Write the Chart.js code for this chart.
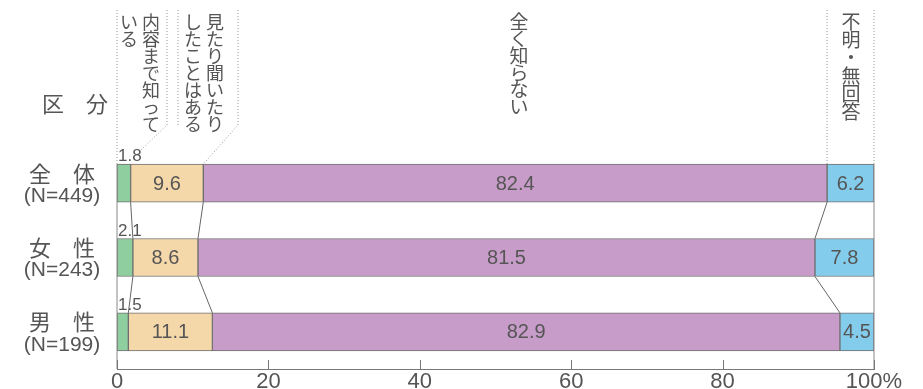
<!DOCTYPE html>
<html>
<head>
<meta charset="utf-8">
<script src="https://cdn.jsdelivr.net/npm/chart.js@4/dist/chart.umd.min.js"></script>
<style>
  body { margin: 0; background: #fff; }
  #wrap { width: 923px; height: 389px; position: relative; }
</style>
</head>
<body>
<div id="wrap"><canvas id="chart"></canvas></div>
<script>
// rows and sample sizes
const categories = ["全　体", "女　性", "男　性"];
const sampleSizes = ["(N=449)", "(N=243)", "(N=199)"];

// series (percent)
const seriesNames = ["内容まで知っている", "見たり聞いたりしたことはある", "全く知らない", "不明・無回答"];
const knowContent = [1.8, 2.1, 1.5];
const heardOf = [9.6, 8.6, 11.1];
const dontKnow = [82.4, 81.5, 82.9];
const noAnswer = [6.2, 7.8, 4.5];

const xTicks = [0, 20, 40, 60, 80, 100];

const colors = ["#8fcf9f", "#f5d8aa", "#c89cc8", "#84ccec"];
const textColor = "#555";
const jpFont = "'Noto Sans CJK JP', sans-serif";
const numFont = "'Liberation Sans', Arial, sans-serif";

// vertical text helper
function vText(ctx, str, x, y, pitch) {
  ctx.textAlign = "center";
  ctx.textBaseline = "top";
  [...str].forEach((ch, i) => ctx.fillText(ch, x, y + i * pitch));
}

function dotted(ctx, pts) {
  ctx.save();
  ctx.strokeStyle = "#999";
  ctx.lineWidth = 1;
  ctx.setLineDash([1, 2]);
  ctx.beginPath();
  ctx.moveTo(pts[0][0], pts[0][1]);
  pts.slice(1).forEach((p) => ctx.lineTo(p[0], p[1]));
  ctx.stroke();
  ctx.restore();
}

const decorations = {
  id: "decorations",
  afterDatasetsDraw(chart) {
    const { ctx, chartArea, scales } = chart;
    const xs = scales.x;
    const metas = chart.data.datasets.map((d, i) => chart.getDatasetMeta(i));
    const first = metas[0].data[0];
    const half = first.height / 2;
    const topBar = first.y - half;
    const x0 = xs.getPixelForValue(0);
    const x100 = xs.getPixelForValue(100);

    ctx.save();
    // frame verticals
    ctx.strokeStyle = "#888";
    ctx.lineWidth = 1;
    ctx.beginPath();
    ctx.moveTo(x0, topBar); ctx.lineTo(x0, chartArea.bottom);
    ctx.moveTo(x100, topBar); ctx.lineTo(x100, chartArea.bottom);
    ctx.stroke();

    // inward ticks
    ctx.strokeStyle = "#777";
    ctx.beginPath();
    xTicks.forEach((v) => {
      const px = Math.round(xs.getPixelForValue(v)) + 0.5;
      ctx.moveTo(px, chartArea.bottom);
      ctx.lineTo(px, chartArea.bottom - 9);
    });
    ctx.stroke();

    // connector lines between rows
    ctx.strokeStyle = "#666";
    ctx.beginPath();
    for (let d = 0; d < 3; d++) {
      const els = metas[d].data;
      for (let r = 0; r < els.length - 1; r++) {
        ctx.moveTo(els[r].x, els[r].y + half);
        ctx.lineTo(els[r + 1].x, els[r + 1].y - half);
      }
    }
    ctx.stroke();

    // value labels
    ctx.fillStyle = textColor;
    chart.data.datasets.forEach((ds, d) => {
      metas[d].data.forEach((el, r) => {
        const v = ds.data[r];
        if (d === 0) {
          ctx.font = "17px " + numFont;
          ctx.textAlign = "left";
          ctx.textBaseline = "bottom";
          ctx.fillText(v.toFixed(1), el.base + 1, el.y - half + 1);
        } else {
          ctx.font = "20px " + numFont;
          ctx.textAlign = "center";
          ctx.textBaseline = "middle";
          ctx.fillText(v.toFixed(1), (el.x + el.base) / 2, el.y + 1);
        }
      });
    });

    // row labels
    metas[0].data.forEach((el, r) => {
      ctx.textAlign = "center";
      ctx.textBaseline = "middle";
      ctx.font = "22px " + jpFont;
      ctx.fillText(categories[r], 62, el.y - 10);
      ctx.font = "21px " + numFont;
      ctx.fillText(sampleSizes[r], 62, el.y + 13);
    });
    ctx.font = "22px " + jpFont;
    ctx.fillText("区　分", 75, 104);

    // header labels
    ctx.font = "18px " + jpFont;
    vText(ctx, "内容まで知って", 151, 13, 17);
    vText(ctx, "いる", 129, 13, 17);
    vText(ctx, "見たり聞いたり", 215, 13, 17);
    vText(ctx, "したことはある", 193, 13, 17);
    ctx.font = "19px " + jpFont;
    vText(ctx, "全く知らない", 519, 12, 17);
    vText(ctx, "不明・無回答", 851, 12, 18);

    // header boxes
    dotted(ctx, [[x0, 10], [x0, topBar]]);
    dotted(ctx, [[167, 10], [167, 125], [141, 150]]);
    dotted(ctx, [[178, 10], [178, 126]]);
    dotted(ctx, [[238, 10], [238, 125], [xs.getPixelForValue(knowContent[0] + heardOf[0]), topBar]]);
    dotted(ctx, [[xs.getPixelForValue(100 - noAnswer[0]), 10], [xs.getPixelForValue(100 - noAnswer[0]), topBar]]);
    dotted(ctx, [[x100, 10], [x100, topBar]]);
    ctx.restore();
  },
};

new Chart(document.getElementById("chart"), {
  type: "bar",
  data: {
    labels: categories,
    datasets: [knowContent, heardOf, dontKnow, noAnswer].map((data, i) => ({
      label: seriesNames[i],
      data,
      backgroundColor: colors[i],
      borderColor: "#6e6e6e",
      borderWidth: 1,
      borderSkipped: false,
      barThickness: 38,
    })),
  },
  options: {
    indexAxis: "y",
    responsive: true,
    maintainAspectRatio: false,
    animation: false,
    layout: { padding: { top: 146, left: 117, right: 49, bottom: -6 } },
    plugins: { legend: { display: false }, tooltip: { enabled: false } },
    scales: {
      x: {
        stacked: true,
        min: 0,
        max: 100,
        grid: { display: false, drawTicks: false },
        border: { display: true, color: "#777", width: 1 },
        afterBuildTicks: (scale) => {
          scale.ticks = xTicks.map((v) => ({ value: v }));
        },
        ticks: {
          padding: 2,
          color: textColor,
          font: { size: 22, family: numFont, lineHeight: 1 },
          maxRotation: 0,
          callback: (v) => (v === 100 ? "100%" : v),
        },
      },
      y: { stacked: true, display: false },
    },
  },
  plugins: [decorations],
});
</script>
</body>
</html>
